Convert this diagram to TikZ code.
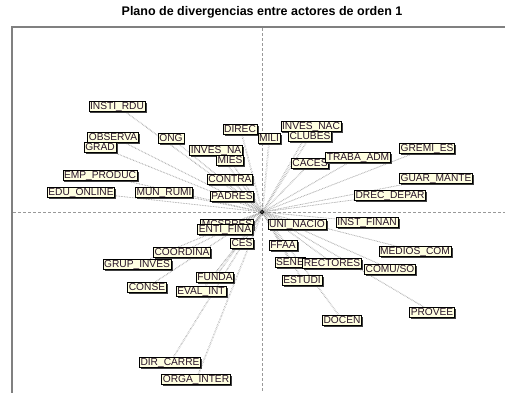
\documentclass[tikz,border=0pt]{standalone}
\usepackage{fontspec}
\setmainfont{Liberation Sans}
\usetikzlibrary{shadows}
\definecolor{cream}{RGB}{255,255,225}
\definecolor{labeltext}{RGB}{40,20,40}
\definecolor{framegray}{RGB}{128,128,128}
\pgfdeclarelayer{background}
\pgfsetlayers{background,main}
\tikzset{
  actor/.style={draw=black, fill=cream, line width=0.6pt, text=labeltext,
    font=\fontsize{10.2}{11}\selectfont, inner xsep=1.2pt, inner ysep=0.7pt,
    text height=7.4pt, text depth=1pt,
    drop shadow={shadow xshift=1.6pt, shadow yshift=-1.6pt, fill=black!75, opacity=1}},
  link/.style={draw=gray!75, densely dotted, line width=0.6pt},
  axis/.style={draw=gray!80, densely dashed, line width=0.4pt},
  frameline/.style={draw=framegray, line width=1.2pt}
}
\begin{document}
\begin{tikzpicture}[x=1pt,y=-1pt]
\useasboundingbox (0,0) rectangle (505,392);
% title
\node (title) at (262,12) {\fontsize{12.5}{14}\selectfont\bfseries Plano de divergencias entre actores de orden 1};
% plot frame and axes
\coordinate (tl) at (12,27);
\coordinate (tr) at (506,27);
\coordinate (bl) at (12,393);
\draw[frameline] (bl) -- (tl) -- (tr);
\coordinate (vtop) at (262,28);
\coordinate (vbot) at (262,393);
\coordinate (hleft) at (13,212);
\coordinate (hright) at (506,212);
\draw[axis] (vtop) -- (vbot);
\draw[axis] (hleft) -- (hright);
% actors
\node[actor] (instirdu) at (117,106) {INSTI\_RDU};
\node[actor] (ong) at (171,138) {ONG};
\node[actor] (observa) at (113,137) {OBSERVA};
\node[actor] (grad) at (100,147) {GRAD};
\node[actor] (empproduc) at (100,175) {EMP\_PRODUC};
\node[actor] (eduonline) at (81,192) {EDU\_ONLINE};
\node[actor] (munrumi) at (164,192) {MUN\_RUMI};
\node[actor] (direc) at (240,129) {DIREC};
\node[actor] (mili) at (269,138) {MILI};
\node[actor] (invesnac) at (311,126) {INVES\_NAC};
\node[actor] (clubes) at (310,136) {CLUBES};
\node[actor] (invesna) at (216,150) {INVES\_NA};
\node[actor] (mies) at (230,160) {MIES};
\node[actor] (caces) at (310,163) {CACES};
\node[actor] (contra) at (230,179) {CONTRA};
\node[actor] (padres) at (232,196) {PADRES};
\node[actor] (trabaadm) at (358,157) {TRABA\_ADM};
\node[actor] (gremies) at (427,148) {GREMI\_ES};
\node[actor] (guarmante) at (436,178) {GUAR\_MANTE};
\node[actor] (drecdepar) at (390,195) {DREC\_DEPAR};
\node[actor] (instfinan) at (367,222) {INST\_FINAN};
\node[actor] (uninacio) at (297,224) {UNI\_NACIO};
\node[actor] (medioscom) at (415,251) {MEDIOS\_COM};
\node[actor] (ffaa) at (283,245) {FFAA};
\node[actor] (sene) at (290,262) {SENE};
\node[actor] (comuso) at (390,269) {COMU/SO};
\node[actor] (rectores) at (332,263) {RECTORES};
\node[actor] (estudi) at (302,280) {ESTUDI};
\node[actor] (provee) at (432,312) {PROVEE};
\node[actor] (docen) at (342,320) {DOCEN};
\node[actor] (mcspres) at (227,224) {MCSPRES};
\node[actor] (entifina) at (225,229) {ENTI\_FINA};
\node[actor] (ces) at (242,243) {CES};
\node[actor] (coordina) at (182,252) {COORDINA};
\node[actor] (grupinves) at (137,264) {GRUP\_INVES};
\node[actor] (funda) at (215,277) {FUNDA};
\node[actor] (conse) at (147,287) {CONSE};
\node[actor] (evalint) at (201,291) {EVAL\_INT};
\node[actor] (dircarre) at (170,362) {DIR\_CARRE};
\node[actor] (orgainter) at (196,379) {ORGA\_INTER};
% origin marker
\node[circle, draw=black, fill=white, line width=0.8pt, inner sep=1.2pt] (origin) at (262,212) {};
\fill[black] (origin) circle (0.9pt);
% links from the origin to every actor
\begin{pgfonlayer}{background}
\foreach \a in {instirdu,ong,observa,grad,empproduc,eduonline,munrumi,direc,mili,
  invesnac,clubes,invesna,mies,caces,contra,padres,trabaadm,gremies,guarmante,
  drecdepar,instfinan,uninacio,medioscom,ffaa,sene,comuso,rectores,estudi,provee,
  docen,mcspres,entifina,ces,coordina,grupinves,funda,conse,evalint,dircarre,orgainter}{
  \draw[link] (origin) -- (\a);
  \draw[link, draw=gray!55] ([xshift=1pt]origin.center) -- ([xshift=1pt]\a.center);
}
\end{pgfonlayer}
\end{tikzpicture}
\end{document}
